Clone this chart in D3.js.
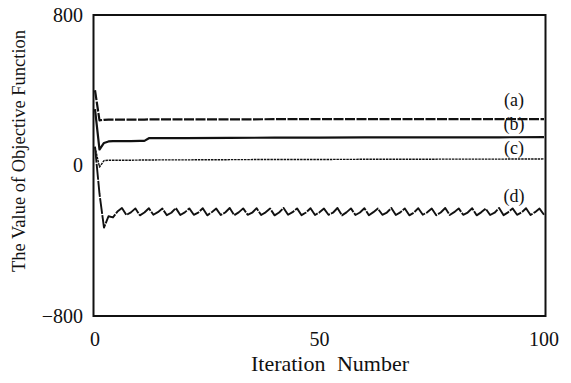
<!DOCTYPE html>
<html>
<head>
<meta charset="utf-8">
<script src="https://cdn.jsdelivr.net/npm/d3@7"></script>
<style>
  body { margin: 0; background: #fff; }
</style>
</head>
<body>
<script>
// iterations sampled for the smooth curves (a)-(c)
const iterSparse = [0, 1, 2, 3, 4, 5, 6, 8, 10, 11, 12, 15, 20, 30, 40, 50, 60, 70, 80, 90, 100];
const seriesA = [400, 240, 243, 244, 244, 244, 244, 244, 244, 244, 245, 245, 245, 245, 246, 246, 246, 246, 247, 247, 247];
const seriesB = [300, 85, 120, 128, 130, 130, 130, 130, 131, 131, 145, 146, 146, 147, 148, 148, 149, 149, 150, 150, 151];
const seriesC = [98, -8, 26, 28, 28, 28, 28, 28, 29, 29, 29, 30, 30, 31, 32, 32, 33, 33, 34, 34, 35];

// curve (d) read at every iteration 0..100
const seriesD = [
  100, -150, -330, -270, -276, -245,
  -226, -263, -249, -228, -265, -250, -227, -262, -248, -229, -264, -251,
  -226, -263, -249, -228, -262, -250, -227, -265, -248, -229, -263, -250,
  -226, -264, -249, -228, -262, -251, -227, -263, -249, -229, -265, -250,
  -226, -262, -248, -228, -264, -250, -227, -263, -249, -229, -262, -251,
  -226, -265, -249, -228, -263, -250, -227, -264, -248, -229, -262, -250,
  -226, -263, -249, -228, -265, -251, -227, -262, -249, -229, -264, -250,
  -226, -263, -248, -228, -262, -250, -227, -265, -249, -229, -263, -251,
  -226, -264, -249, -228, -262, -250, -227, -263, -248, -229, -262
];

const seriesLabels = ["(a)", "(b)", "(c)", "(d)"];
const yTicks = [-800, 0, 800];
const xTicks = [0, 50, 100];

(function () {
  'use strict';

  var width = 571, height = 383;
  var serif = "'Liberation Serif', 'Times New Roman', Times, 'DejaVu Serif', serif";

  var svg = d3.select("body").append("svg")
    .attr("width", width)
    .attr("height", height)
    .attr("font-family", serif)
    .style("font-family", serif);

  var x = d3.scaleLinear().domain([0, 100]).range([95, 544]);
  var y = d3.scaleLinear().domain([-800, 800]).range([316, 15]);

  // frame
  svg.append("rect")
    .attr("x", x(0) - 1.5)
    .attr("y", y(800))
    .attr("width", x(100) - x(0) + 3)
    .attr("height", y(-800) - y(800))
    .attr("fill", "none")
    .attr("stroke", "#111")
    .attr("stroke-width", 2);

  // tick labels
  svg.append("g").selectAll("text")
    .data(yTicks).enter().append("text")
    .attr("x", 83)
    .attr("y", d => y(d))
    .attr("dy", "0.33em")
    .attr("text-anchor", "end")
    .attr("font-size", "20px")
    .attr("fill", "#111")
    .text(d => d < 0 ? "\u2212" + Math.abs(d) : d);

  svg.append("g").selectAll("text")
    .data(xTicks).enter().append("text")
    .attr("x", d => x(d))
    .attr("y", 346)
    .attr("text-anchor", "middle")
    .attr("font-size", "20px")
    .attr("fill", "#111")
    .text(d => d);

  // axis titles
  svg.append("text")
    .attr("x", 330)
    .attr("y", 371)
    .attr("text-anchor", "middle")
    .attr("font-size", "22px")
    .attr("word-spacing", "6px")
    .attr("fill", "#111")
    .text("Iteration Number");

  svg.append("text")
    .attr("transform", "translate(25,151) rotate(-90)")
    .attr("text-anchor", "middle")
    .attr("font-size", "18.5px")
    .attr("fill", "#111")
    .text("The Value of Objective Function");

  var line = d3.line()
    .x(d => x(d[0]))
    .y(d => y(d[1]));

  var sparse = [seriesA, seriesB, seriesC].map(s => s.map((v, i) => [iterSparse[i], v]));
  var dPts = seriesD.map((v, i) => [i, v]);

  var styles = [
    {w: 2.2, dash: "10,1.5", c: "#111"},
    {w: 2.2, dash: null, c: "#111"},
    {w: 1.4, dash: "2.5,0.8", c: "#111"},
    {w: 1.9, dash: "16,1.2", c: "#111"}
  ];
  var allSeries = sparse.concat([dPts]);

  svg.append("g").selectAll("path")
    .data(allSeries).enter().append("path")
    .attr("d", d => line(d))
    .attr("fill", "none")
    .attr("stroke", (d, i) => styles[i].c)
    .attr("stroke-width", (d, i) => styles[i].w)
    .attr("stroke-dasharray", (d, i) => styles[i].dash)
    .attr("stroke-linejoin", "round");

  // series labels near the right end
  var labelDy = [-13, -7, -5, -13];
  svg.append("g").selectAll("text")
    .data(seriesLabels).enter().append("text")
    .attr("x", x(93.3))
    .attr("y", (d, i) => {
      var s = allSeries[i];
      return y(s[s.length - 1][1]) + labelDy[i];
    })
    .attr("text-anchor", "middle")
    .attr("font-size", "18px")
    .attr("fill", "#111")
    .text(d => d);
})();
</script>
</body>
</html>
